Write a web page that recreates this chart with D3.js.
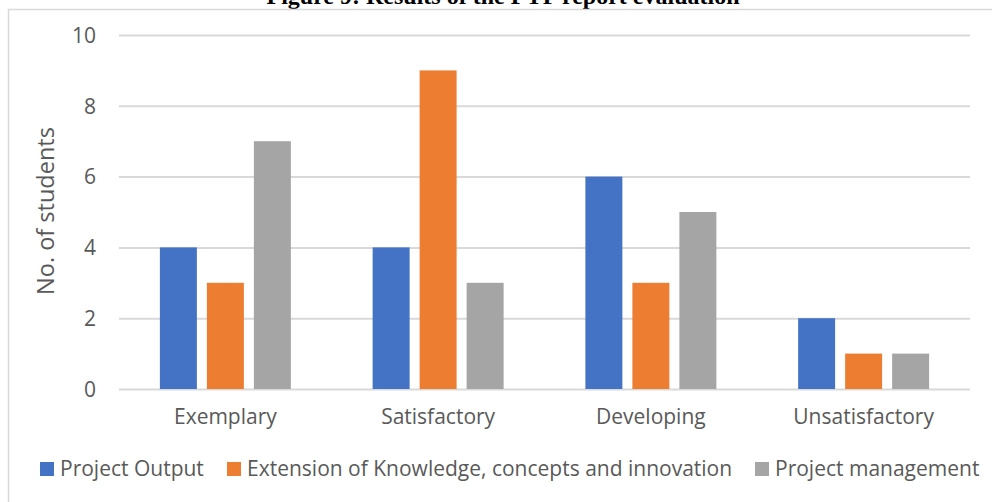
<!DOCTYPE html>
<html>
<head>
<meta charset="utf-8">
<script src="https://cdn.jsdelivr.net/npm/d3@7"></script>
<style>
  html, body { margin: 0; padding: 0; background: #fff; }
  svg { display: block; }
  text { font-family: "Open Sans", "Noto Sans", sans-serif; fill: #595959; }
</style>
</head>
<body>
<svg id="chart" width="992" height="502"></svg>
<script>
// Evaluation results per rating level
const categories = ["Exemplary", "Satisfactory", "Developing", "Unsatisfactory"];
const seriesNames = ["Project Output", "Extension of Knowledge, concepts and innovation", "Project management"];
const projectOutput = [4, 4, 6, 2];
const extensionKnowledge = [3, 9, 3, 1];
const projectManagement = [7, 3, 5, 1];
const yTicks = [0, 2, 4, 6, 8, 10];
const colors = ["#4472C4", "#ED7D31", "#A5A5A5"];
const titleText = "Figure 9: Results of the FYP report evaluation";
const yLabel = "No. of students";

const seriesValues = [projectOutput, extensionKnowledge, projectManagement];

const svg = d3.select("#chart");
const plot = { left: 119, right: 970, top: 35, bottom: 389 };

// Title (sits above the chart frame, partly clipped by the page top)
svg.append("text")
  .attr("x", 503).attr("y", 4)
  .attr("text-anchor", "middle")
  .style("font-family", "'Liberation Serif', 'Times New Roman', serif")
  .style("font-weight", "bold")
  .style("font-size", "24px")
  .style("fill", "#000")
  .text(titleText);

// Chart frame
svg.append("path")
  .attr("d", "M8.5,520 V9.5 H1000")
  .attr("fill", "none")
  .attr("stroke", "#d9d9d9")
  .attr("stroke-width", 1.5);

const y = d3.scaleLinear().domain([0, 10]).range([plot.bottom, plot.top]);
const x0 = d3.scaleBand().domain(categories).range([plot.left, plot.right]).padding(0);
const x1 = d3.scaleBand().domain(seriesNames).range([0, x0.bandwidth()])
  .paddingInner(0.213).paddingOuter(0.87);

// Gridlines + y tick labels
const yAxis = d3.axisLeft(y).tickValues(yTicks).tickSize(-(plot.right - plot.left)).tickPadding(23);
const gy = svg.append("g").attr("transform", `translate(${plot.left},0)`).call(yAxis);
gy.select(".domain").remove();
gy.selectAll(".tick line").attr("stroke", "#d9d9d9").attr("stroke-width", 2);
gy.selectAll(".tick text")
  .style("font-size", "21px")
  .style("fill", "#595959")
  .attr("dy", "0.35em");

// Bars
const groups = svg.append("g").selectAll("g")
  .data(categories)
  .join("g")
  .attr("transform", d => `translate(${x0(d)},0)`);

groups.selectAll("rect")
  .data((c, i) => seriesNames.map((s, j) => ({ s, j, v: seriesValues[j][i] })))
  .join("rect")
  .attr("x", d => x1(d.s))
  .attr("width", x1.bandwidth())
  .attr("y", d => y(d.v))
  .attr("height", d => y(0) - y(d.v))
  .attr("fill", d => colors[d.j]);

// Category axis labels
const xAxis = d3.axisBottom(x0).tickSize(0).tickPadding(20);
const gx = svg.append("g").attr("transform", `translate(0,${plot.bottom})`).call(xAxis);
gx.select(".domain").remove();
gx.selectAll(".tick text").style("font-size", "21px").style("fill", "#595959");

// Y axis title
svg.append("text")
  .attr("transform", "translate(46,211) rotate(-90)")
  .attr("text-anchor", "middle")
  .attr("dy", "0.35em")
  .style("font-size", "23.5px")
  .text(yLabel);

// Legend
const legendX = [40, 227, 755];
const legend = svg.append("g").selectAll("g")
  .data(seriesNames)
  .join("g")
  .attr("transform", (d, i) => `translate(${legendX[i]},462)`);
legend.append("rect").attr("width", 14).attr("height", 14).attr("fill", (d, i) => colors[i]);
legend.append("text")
  .attr("x", 20).attr("y", 7).attr("dy", "0.35em")
  .style("font-size", "21px")
  .text(d => d);
</script>
</body>
</html>
